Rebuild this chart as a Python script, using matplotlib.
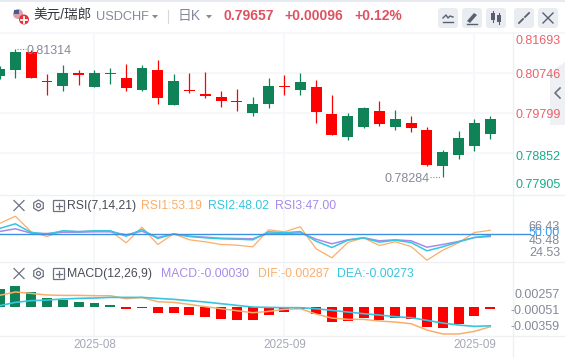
import numpy as np
import matplotlib
matplotlib.use('Agg')
import matplotlib.pyplot as plt
from matplotlib.patches import FancyBboxPatch, Circle, Polygon, Rectangle

plt.rcParams['font.family'] = ['Liberation Sans', 'Noto Sans CJK SC', 'DejaVu Sans']

# velas diarias USDCHF
opens = [0.80675, 0.80817, 0.81243, 0.80549, 0.80438, 0.80746, 0.80415, 0.80730,
         0.80628, 0.80344, 0.80817, 0.79988, 0.80344, 0.80249, 0.80178, 0.80083,
         0.79799, 0.80012, 0.80438, 0.80344, 0.80415, 0.79775, 0.79231, 0.79468,
         0.79846, 0.79468, 0.79562, 0.79397, 0.78544, 0.78805, 0.79018, 0.79302]
closes = [0.80841, 0.81243, 0.80628, 0.80525, 0.80746, 0.80699, 0.80746, 0.80746,
          0.80391, 0.80864, 0.80154, 0.80557, 0.80320, 0.80201, 0.80083, 0.80067,
          0.80012, 0.80438, 0.80407, 0.80533, 0.79823, 0.79278, 0.79728, 0.79917,
          0.79539, 0.79657, 0.79444, 0.78568, 0.78876, 0.79207, 0.79562, 0.79657]
highs = [0.80900, 0.81314, 0.81291, 0.80722, 0.80935, 0.80817, 0.80817, 0.80864,
         0.80959, 0.80935, 0.81054, 0.80722, 0.80746, 0.80770, 0.80320, 0.80367,
         0.80178, 0.80628, 0.80699, 0.80746, 0.80580, 0.80225, 0.79799, 0.79941,
         0.80083, 0.79870, 0.79728, 0.79468, 0.78923, 0.79373, 0.79657, 0.79728]
lows = [0.80600, 0.80628, 0.80628, 0.80225, 0.80320, 0.80462, 0.80415, 0.80486,
        0.80320, 0.80320, 0.80012, 0.79988, 0.80273, 0.80154, 0.79941, 0.79846,
        0.79728, 0.79917, 0.80225, 0.80225, 0.79562, 0.79278, 0.79160, 0.79444,
        0.79491, 0.79397, 0.79349, 0.78544, 0.78284, 0.78710, 0.78899, 0.79183]

rsi1 = [60, 67.3, 51.7, 47, 52.7, 51.7, 52.7, 52.7, 40.7, 56.3, 39, 49.7, 43.7, 41.7, 39, 38.3,
        36.7, 53.7, 51.7, 56.7, 34.7, 25.7, 41, 45.7, 38, 41.7, 37, 23.3, 33.3, 40.7, 51, 53.19]
rsi2 = [55, 59.7, 51, 49.3, 52.7, 52, 52.7, 52.7, 47.3, 54, 45, 49.7, 47, 45.7, 44.7, 44.3,
        43.7, 51.7, 50.7, 52, 42.3, 36, 43.3, 45.7, 41.3, 43.3, 41, 32.7, 36.7, 41.7, 46, 48.02]
rsi3 = [52, 54.7, 50.3, 50, 51.3, 51.3, 51.7, 51.7, 48.7, 52.3, 46, 49.3, 47.3, 46.3, 45.3, 45,
        44.7, 50.3, 50, 50.7, 44.3, 39.7, 43.7, 45.7, 42.7, 43.7, 42.7, 36.3, 39, 42, 46, 47]

# MACD en unidades de 1e-5
macd_hist = [252, 295, 210, 124, 95, 67, 52, 24, -33, -14, -90, -90, -119, -148, -176, -190,
             -190, -119, -76, -33, -105, -219, -205, -162, -190, -162, -176, -290, -305, -248, -133, -30]
dif = [162, 210, 190, 167, 162, 162, 157, 157, 114, 133, 71, 62, 33, 0, -29, -57,
       -86, -67, -38, -29, -105, -162, -181, -181, -205, -219, -243, -333, -390, -390, -352, -287]
dea = [14, 62, 86, 95, 110, 119, 124, 133, 133, 133, 119, 105, 86, 67, 43, 19,
       -5, -10, -14, -14, -29, -52, -76, -100, -119, -143, -157, -195, -233, -262, -281, -273]

price_ticks = [0.81693, 0.80746, 0.79799, 0.78852, 0.77905]
price_labels = ['0.81693', '0.80746', '0.79799', '0.78852', '0.77905']
date_idx = [6, 18, 30]
date_labels = ['2025-08', '2025-09', '2025-09']

RED = '#ff0000'
GREEN = '#108258'
ORANGE = '#fbae6b'
CYAN = '#36c6e0'
PURPLE = '#a78be8'
GRID = '#f5f6f9'
GRAY = '#858a99'

W, H = 565, 358
PLOT_R = 513
fig = plt.figure(figsize=(W / 100, H / 100), dpi=100)


def panel(top, bottom):
    ax = fig.add_axes([0, 1 - bottom / H, PLOT_R / W, (bottom - top) / H])
    ax.set_xlim(0.03, 32.44)
    ax.set_xticks([])
    ax.set_yticks([])
    for s in ax.spines.values():
        s.set_visible(False)
    for i in date_idx:
        ax.axvline(i, color=GRID, lw=1.2, zorder=0)
    return ax


x = np.arange(len(opens))
opens = np.array(opens)
closes = np.array(closes)
up = closes >= opens
colors = [GREEN if u else RED for u in up]

# velas
ax1 = panel(33, 194)
ax1.set_ylim(0.77881, 0.81693)
for p in price_ticks[1:4]:
    ax1.axhline(p, color=GRID, lw=1.2, zorder=0)
ax1.vlines(x, lows, highs, colors=colors, lw=0.9, zorder=2)
body = np.maximum(np.abs(closes - opens), 0.00012)
ax1.bar(x, body, bottom=np.minimum(opens, closes), width=0.69, color=colors, zorder=3)

# maximo y minimo con guion de puntos
ax1.annotate('0.81314', (1, max(highs)), xytext=(11, -2), textcoords='offset pixels',
             fontsize=9, color=GRAY, va='center', zorder=4)
ax1.annotate('0.78284', (28, min(lows)), xytext=(-13, -2), textcoords='offset pixels',
             fontsize=9, color=GRAY, va='center', ha='right', zorder=4)
ax1.plot([1.1, 1.65], [max(highs), max(highs)], color=GRAY, lw=0.8, ls=(0, (1, 1.5)), zorder=4)
ax1.plot([27.2, 27.9], [min(lows), min(lows)], color=GRAY, lw=0.8, ls=(0, (1, 1.5)), zorder=4)

# RSI
ax2 = panel(195, 262)
ax2.set_ylim(50 - 28.5, 50 + 38.5)
ax2.plot(x, rsi1, color=ORANGE, lw=0.9)
ax2.plot(x, rsi3, color=PURPLE, lw=1.1)
ax2.plot(x, rsi2, color=CYAN, lw=1.1)
ax2.axhline(50, color='#3d8fe0', lw=1.0, zorder=4)

# MACD
ax3 = panel(262, 336)
ax3.set_ylim(-(336 - 306.7) / 0.07, (306.7 - 262) / 0.07)
hist_colors = [GREEN if v > 0 else RED for v in macd_hist]
ax3.bar(x, macd_hist, width=0.63, color=hist_colors)
ax3.plot(x, dif, color=ORANGE, lw=1.1)
ax3.plot(x, dea, color=CYAN, lw=1.2)

# capa en pixeles para barra de herramientas y etiquetas
ov = fig.add_axes([0, 0, 1, 1], facecolor='none')
ov.set_xlim(0, W)
ov.set_ylim(H, 0)
ov.axis('off')
ov.add_patch(Rectangle((0, 0), W, 2.2, color='#e6eaf0', lw=0))
ov.plot([0, W], [32.5, 32.5], color=GRID, lw=1.2)
for yy in [194.5, 262, 336]:
    ov.plot([0, W], [yy, yy], color='#eef0f4', lw=1)
ov.plot([PLOT_R, PLOT_R], [33, H], color='#eef0f4', lw=1)

# bandera
ov.add_patch(Circle((18, 14), 5, color='#d9a0a8', lw=0))
ov.add_patch(Rectangle((13.5, 9.5), 5, 4, color='#4a5a90', lw=0))
ov.add_patch(Circle((24, 19.5), 5, color='#e8303a', lw=0))
ov.plot([21, 27], [19.5, 19.5], color='white', lw=1.3)
ov.plot([24, 24], [16.5, 22.5], color='white', lw=1.3)

ov.text(33, 16.2, '美元/瑞郎', fontsize=9.8, color='#33363f', va='center')
ov.text(96, 17.2, 'USDCHF', fontsize=9.2, color=GRAY, va='center')
ov.add_patch(Polygon([[152, 15], [158, 15], [155, 18.5]], color=GRAY, lw=0))
ov.plot([168, 168], [10, 23], color='#d5d8e0', lw=0.8)
ov.text(178, 16.2, '日K', fontsize=10, color=GRAY, va='center')
ov.add_patch(Polygon([[206, 15], [212, 15], [209, 18.5]], color=GRAY, lw=0))
ov.text(223, 16.5, '0.79657', fontsize=10, color='#de5260', weight='bold', va='center')
ov.text(284, 16.5, '+0.00096', fontsize=10, color='#de5260', weight='bold', va='center')
ov.text(354, 16.5, '+0.12%', fontsize=10, color='#de5260', weight='bold', va='center')

# botones
for bx in [438, 462, 486, 514, 538]:
    ov.add_patch(FancyBboxPatch((bx + 2, 10), 16, 16, boxstyle='round,pad=2,rounding_size=3',
                                fc='#e9ecf1', ec='none'))
ov.plot([443, 446, 448, 450, 453], [18, 15, 18, 16, 17], color='#5a5f6d', lw=1)
ov.plot([443, 453], [22, 22], color='#5a5f6d', lw=1)
ov.add_patch(Polygon([[467, 21], [474, 13], [477, 15], [470, 23]], color='#5a5f6d', lw=0))
ov.plot([467, 477], [24, 24], color='#5a5f6d', lw=1)
ov.add_patch(Rectangle((491, 13), 4, 7, color='#5a5f6d', lw=0))
ov.add_patch(Rectangle((497, 15), 4, 7, color='#5a5f6d', lw=0))
ov.plot([493, 493], [11, 22], color='#5a5f6d', lw=0.8)
ov.plot([499, 499], [13, 24], color='#5a5f6d', lw=0.8)
ov.plot([519, 523], [23, 19], color='#5a5f6d', lw=1.3)
ov.plot([525, 529], [17, 13], color='#5a5f6d', lw=1.3)
ov.plot([543, 553], [13, 23], color='#5a5f6d', lw=1)
ov.plot([543, 553], [23, 13], color='#5a5f6d', lw=1)

# pestana lateral
ov.add_patch(Polygon([[565, 62], [550, 72], [550, 125], [565, 125]], color='#eef0f4', lw=0))
ov.plot([560, 555, 560], [88, 93, 98], color='#6c7180', lw=1.2)

# eje derecho
label_y = [41.2, 75.5, 114.5, 156.5, 184.5]
label_c = ['#e8626c', '#e8626c', '#e8626c', '#18ab8c', '#18ab8c']
for lab, yy, c in zip(price_labels, label_y, label_c):
    ov.text(561, yy, lab, fontsize=9, color=c, ha='right', va='center')

rsi_ticks = ['66.43', '45.48', '24.53']
for lab, yy in zip(rsi_ticks, [227.5, 241.5, 253.5]):
    ov.text(560, yy, lab, fontsize=9, color=GRAY, ha='right', va='center')
ov.text(560, 233.5, '50.00', fontsize=9, color='#3d9be9', ha='right', va='center')
ov.plot([PLOT_R, 530], [233.5, 233.5], color='#3d8fe0', lw=1)

macd_ticks = ['0.00257', '-0.00051', '-0.00359']
for lab, yy in zip(macd_ticks, [295.5, 311.5, 327.5]):
    ov.text(560, yy, lab, fontsize=9, color=GRAY, ha='right', va='center')

for i, lab in zip(date_idx, date_labels):
    ov.text(-0.5 + 15.83 * i, 345, lab, fontsize=8.4, color='#a5a9b6', ha='center', va='center')


def indicator_icons(yy):
    ov.plot([14, 24], [yy - 5, yy + 5], color='#6c7180', lw=0.9)
    ov.plot([14, 24], [yy + 5, yy - 5], color='#6c7180', lw=0.9)
    a = np.pi / 6 + np.arange(7) * np.pi / 3
    ov.plot(38.5 + 5.5 * np.cos(a), yy + 5.5 * np.sin(a), color='#6c7180', lw=0.9)
    ov.add_patch(Circle((38.5, yy), 2, fc='none', ec='#6c7180', lw=0.9))
    ov.add_patch(Rectangle((53, yy - 5.5), 11, 11, fc='none', ec='#6c7180', lw=0.9))
    ov.plot([55.5, 61.5], [yy, yy], color='#6c7180', lw=0.9)
    ov.plot([58.5, 58.5], [yy - 3, yy + 3], color='#6c7180', lw=0.9)


indicator_icons(205.5)
indicator_icons(273.5)
ov.text(67, 206, 'RSI(7,14,21)', fontsize=8.8, color='#4a4d57', va='center')
ov.text(141, 206, 'RSI1:53.19', fontsize=8.8, color=ORANGE, va='center')
ov.text(208, 206, 'RSI2:48.02', fontsize=8.8, color=CYAN, va='center')
ov.text(275, 206, 'RSI3:47.00', fontsize=8.8, color=PURPLE, va='center')
ov.text(67, 274, 'MACD(12,26,9)', fontsize=8.8, color='#4a4d57', va='center')
ov.text(161, 274, 'MACD:-0.00030', fontsize=8.8, color=PURPLE, va='center')
ov.text(258, 274, 'DIF:-0.00287', fontsize=8.8, color=ORANGE, va='center')
ov.text(337, 274, 'DEA:-0.00273', fontsize=8.8, color=CYAN, va='center')

fig.savefig('out.png', dpi=100)
